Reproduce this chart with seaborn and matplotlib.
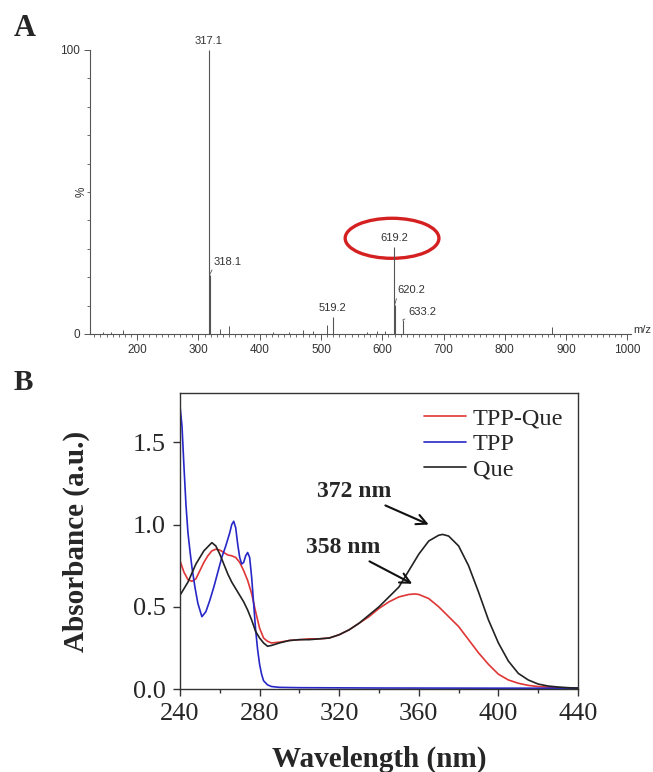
import numpy as np
import pandas as pd
import seaborn as sns
import matplotlib.pyplot as plt
from matplotlib.patches import Ellipse
from matplotlib.ticker import MultipleLocator

# ---- panel A: mass spectrum (m/z, relative intensity %) ----
labeled_mz = [317.1, 318.1, 519.2, 619.2, 620.2, 633.2]
labeled_int = [100, 20.8, 6.1, 30.6, 10.2, 4.9]
minor_mz = [145, 158, 177, 335, 350, 422, 447, 471, 487, 510.5, 575, 591, 605, 877]
minor_int = [0.6, 0.8, 1.3, 1.7, 2.8, 0.8, 0.6, 1.5, 1.0, 3.2, 0.8, 0.9, 1.0, 2.6]

# ---- panel B: UV-vis spectra ----
que_wl = [240, 244, 248, 252, 256, 258, 260, 262, 264, 266, 268, 270, 272, 274, 276,
          278, 280, 282, 284, 286, 290, 295, 300, 305, 310, 315, 320, 325, 330, 335,
          340, 345, 350, 355, 360, 365, 370, 372, 375, 380, 385, 390, 395, 400, 405,
          410, 415, 420, 425, 430, 435, 440]
que_abs = [0.57, 0.65, 0.76, 0.84, 0.89, 0.87, 0.82, 0.76, 0.70, 0.65, 0.61, 0.57, 0.53,
           0.48, 0.42, 0.35, 0.31, 0.28, 0.26, 0.265, 0.28, 0.295, 0.30, 0.30, 0.305,
           0.31, 0.33, 0.36, 0.40, 0.45, 0.50, 0.56, 0.62, 0.72, 0.82, 0.90, 0.935, 0.94,
           0.93, 0.87, 0.75, 0.59, 0.42, 0.28, 0.17, 0.095, 0.055, 0.03, 0.018, 0.012,
           0.008, 0.005]
tppque_wl = [240, 242, 244, 246, 248, 250, 252, 254, 256, 258, 260, 262, 264, 266, 268,
             270, 272, 274, 276, 278, 280, 282, 284, 286, 290, 295, 300, 305, 310, 315,
             320, 325, 330, 335, 340, 345, 350, 355, 358, 360, 365, 370, 375, 380, 385,
             390, 395, 400, 405, 410, 415, 420, 430, 440]
tppque_abs = [0.78, 0.71, 0.665, 0.655, 0.67, 0.72, 0.77, 0.81, 0.84, 0.85, 0.845, 0.83,
              0.815, 0.81, 0.80, 0.77, 0.72, 0.66, 0.58, 0.47, 0.37, 0.31, 0.29, 0.28,
              0.285, 0.295, 0.30, 0.305, 0.305, 0.31, 0.33, 0.36, 0.40, 0.44, 0.49, 0.53,
              0.56, 0.575, 0.578, 0.575, 0.55, 0.50, 0.44, 0.38, 0.30, 0.22, 0.15, 0.09,
              0.055, 0.035, 0.022, 0.015, 0.008, 0.005]
tpp_wl = [240, 241, 242, 243, 244, 245, 246, 247.5, 249, 251, 253, 255, 257, 259, 261,
          263, 265, 266, 267, 268, 269, 270, 271, 272, 273, 274, 275, 276, 277, 278, 279,
          280, 281, 282, 284, 286, 290, 300, 340, 400, 440]
tpp_abs = [1.72, 1.60, 1.35, 1.12, 0.95, 0.84, 0.74, 0.62, 0.52, 0.44, 0.47, 0.54, 0.62,
           0.71, 0.80, 0.87, 0.95, 1.00, 1.02, 0.98, 0.88, 0.80, 0.76, 0.77, 0.81, 0.83,
           0.80, 0.68, 0.52, 0.36, 0.24, 0.15, 0.09, 0.05, 0.025, 0.015, 0.01, 0.008,
           0.006, 0.005, 0.005]
peak_notes = ["372 nm", "358 nm"]

sns.set_theme(style="ticks")
plt.rcParams["font.family"] = ["Liberation Serif", "DejaVu Serif"]

fig = plt.figure(figsize=(6.53, 7.72), dpi=100)
W, H = 653, 772
axA = fig.add_axes([90 / W, 1 - 334 / H, 541 / W, 284 / H])
axB = fig.add_axes([180 / W, 1 - 689 / H, 398 / W, 296 / H])

# ---------------- panel A ----------------
narrow = ["Liberation Sans Narrow", "Liberation Sans", "DejaVu Sans"]
gray = "#555555"
axA.vlines(minor_mz, 0, minor_int, color=gray, lw=0.7)
axA.vlines(labeled_mz, 0, labeled_int, color=gray, lw=0.8)
axA.set_xlim(123, 1006)
axA.set_ylim(0, 100)
sns.despine(ax=axA)
for s in ["left", "bottom"]:
    axA.spines[s].set_color(gray)
    axA.spines[s].set_linewidth(0.8)
axA.xaxis.set_major_locator(MultipleLocator(100))
axA.xaxis.set_minor_locator(MultipleLocator(10))
axA.set_xticks([200, 300, 400, 500, 600, 700, 800, 900, 1000])
axA.set_yticks([0, 100])
axA.yaxis.set_minor_locator(MultipleLocator(10))
axA.tick_params(which="major", length=4, width=0.7, color=gray, pad=3, labelsize=8.5,
                labelcolor="#333333")
axA.tick_params(which="minor", length=2.5, width=0.6, color=gray)
for lab in axA.get_xticklabels() + axA.get_yticklabels():
    lab.set_family(narrow)

# peak labels: (text offset in points, ha, leader)
lab_style = {
    317.1: ((0, 3), "center", False),
    318.1: ((3, 6), "left", True),
    519.2: ((0, 3), "center", False),
    619.2: ((0, 3), "center", False),
    620.2: ((2, 7), "left", True),
    633.2: ((4, 2), "left", True),
}
for mz, it in zip(labeled_mz, labeled_int):
    off, ha, lead = lab_style[mz]
    arrow = dict(arrowstyle="-", color=gray, lw=0.6, shrinkA=0, shrinkB=0,
                 relpos=(0.0, 0.0)) if lead else None
    axA.annotate(f"{mz:.1f}", xy=(mz, it), xytext=off, textcoords="offset points",
                 ha=ha, va="bottom", fontsize=8, color="#333333", family=narrow,
                 arrowprops=arrow, annotation_clip=False)

axA.add_patch(Ellipse((616, 33.7), 153, 14.1, fill=False, ec="#d42020", lw=2.4,
                      clip_on=False))
fig.text(82 / W, 1 - 192 / H, "%", rotation=90, ha="center", va="center",
         fontsize=8.5, color="#333333", family=narrow)
fig.text(651 / W, 1 - 330 / H, "m/z", ha="right", va="center", fontsize=8,
         color="#333333", family=narrow)

# ---------------- panel B ----------------
df = pd.concat([
    pd.DataFrame({"Wavelength": tppque_wl, "Absorbance": tppque_abs, "sample": "TPP-Que"}),
    pd.DataFrame({"Wavelength": tpp_wl, "Absorbance": tpp_abs, "sample": "TPP"}),
    pd.DataFrame({"Wavelength": que_wl, "Absorbance": que_abs, "sample": "Que"}),
])
palette = {"TPP-Que": "#e03535", "TPP": "#2727c8", "Que": "#222222"}
sns.lineplot(data=df, x="Wavelength", y="Absorbance", hue="sample",
             hue_order=["TPP-Que", "TPP", "Que"], palette=palette, estimator=None,
             sort=False, lw=1.2, ax=axB)
axB.set_xlim(240, 440)
axB.set_ylim(0, 1.8)
axB.set_xticks([240, 280, 320, 360, 400, 440])
axB.xaxis.set_minor_locator(MultipleLocator(20))
axB.set_yticks([0.0, 0.5, 1.0, 1.5])
axB.yaxis.set_major_formatter(plt.FormatStrFormatter("%.1f"))
for s in axB.spines.values():
    s.set_color("#333333")
    s.set_linewidth(1.0)
axB.tick_params(which="major", direction="out", length=5, width=1.0, pad=5,
                labelsize=19, color="#333333")
axB.tick_params(which="minor", direction="out", length=3, width=1.0, color="#333333")
axB.set_xlabel("Wavelength (nm)", fontsize=21, fontweight="bold")
axB.set_ylabel("Absorbance (a.u.)", fontsize=21, fontweight="bold")
axB.xaxis.set_label_coords(0.5, -0.19)
axB.yaxis.set_label_coords(-0.225, 0.5)

leg = axB.legend(loc="upper right", frameon=False, fontsize=17.5, handlelength=1.7,
                 handletextpad=0.3, labelspacing=0.15, borderaxespad=0.2)
for h in leg.get_lines():
    h.set_linewidth(1.2)

arrow_kw = dict(arrowstyle="->", color="#111111", lw=1.5, mutation_scale=18,
                shrinkA=0, shrinkB=0)
axB.annotate(peak_notes[0], xy=(365, 1.0), xytext=(327.5, 1.2), ha="center",
             va="center", fontsize=17, fontweight="bold", arrowprops=arrow_kw)
axB.annotate(peak_notes[1], xy=(356.7, 0.64), xytext=(322, 0.86), ha="center",
             va="center", fontsize=17, fontweight="bold", arrowprops=arrow_kw)

fig.text(25 / W, 1 - 29 / H, "A", ha="center", va="center", fontsize=22,
         fontweight="bold")
fig.text(23 / W, 1 - 383 / H, "B", ha="center", va="center", fontsize=21,
         fontweight="bold")

fig.savefig("out.png", dpi=100)
